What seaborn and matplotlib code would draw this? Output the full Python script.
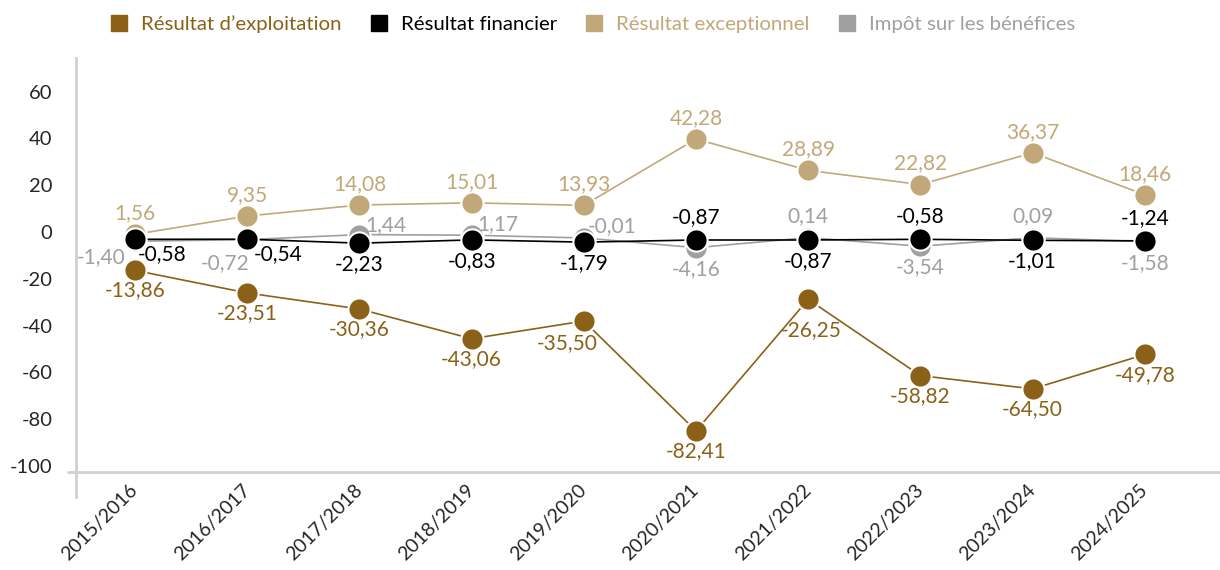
import matplotlib
matplotlib.use("Agg")
import matplotlib.pyplot as plt
import matplotlib.transforms as mtransforms
from matplotlib.lines import Line2D
import seaborn as sns
import pandas as pd

# ====================== DATA ======================
years = ["2015/2016", "2016/2017", "2017/2018", "2018/2019", "2019/2020",
         "2020/2021", "2021/2022", "2022/2023", "2023/2024", "2024/2025"]

exploitation = [-13.86, -23.51, -30.36, -43.06, -35.50, -82.41, -26.25, -58.82, -64.50, -49.78]
financier = [-0.58, -0.54, -2.23, -0.83, -1.79, -0.87, -0.87, -0.58, -1.01, -1.24]
exceptionnel = [1.56, 9.35, 14.08, 15.01, 13.93, 42.28, 28.89, 22.82, 36.37, 18.46]
impot = [-1.40, -0.72, 1.44, 1.17, -0.01, -4.16, 0.14, -3.54, 0.09, -1.58]

series_names = ["Résultat d\u2019exploitation", "Résultat financier",
                "Résultat exceptionnel", "Impôt sur les bénéfices"]
colors = ["#8B6118", "#000000", "#C2A878", "#A0A0A0"]
y_ticks = [-100, -80, -60, -40, -20, 0, 20, 40, 60]

# label offsets in pixels (dx, dy) per point
off_expl = [(0, -20), (0, -20), (0, -20), (0, -20), (-17, -22),
            (0, -20), (3, -31), (0, -20), (0, -20), (0, -21)]
off_exc = [(0, 21)] * 10
off_fin = [(27, -15), (31, -15), (0, -21), (0, -21), (0, -21),
           (0, 23), (0, -21), (0, 23), (0, -21), (0, 23)]
off_imp = [(-34, -16), (-22, -23), (26, 9), (26, 11), (28, 12),
           (0, -21), (0, 22), (0, -21), (0, 22), (0, -21)]

# ====================== PLOT ======================
sns.set_theme(style="white")
plt.rcParams['font.family'] = ['Lato', 'DejaVu Sans']

fig = plt.figure(figsize=(12.2, 5.7), dpi=100)
ax = fig.add_axes([76 / 1220, 1 - 497 / 570, 1 - 76 / 1220, (497 - 58) / 570])

idx = list(range(len(years)))
data = [exploitation, financier, exceptionnel, impot]
offsets = [off_expl, off_fin, off_exc, off_imp]
zorders = [3, 5, 3, 4]

for name, vals, col, offs, z in zip(series_names, data, colors, offsets, zorders):
    df = pd.DataFrame({"x": idx, "y": vals})
    sns.lineplot(data=df, x="x", y="y", ax=ax, color=col, linewidth=1.2,
                 marker="o", markersize=16, markeredgecolor="white",
                 markeredgewidth=1.5, zorder=z)
    for i, v in enumerate(vals):
        dx, dy = offs[i]
        ax.annotate(f"{v:.2f}".replace(".", ","), (i, v), xytext=(dx, dy),
                    textcoords="offset pixels", ha="center", va="center",
                    fontsize=15, color=col, zorder=6)

ax.set_xlim(-0.526, 9.67)
ax.set_ylim(-110.7, 76.9)
ax.set_xticks(idx)
ax.set_xticklabels(years, rotation=45, ha="right", va="center",
                   rotation_mode="anchor", fontsize=14)
ax.set_yticks(y_ticks)
ax.set_yticklabels([str(t) for t in y_ticks], fontsize=14.5)
ax.tick_params(axis="both", length=0)
ax.tick_params(axis="y", pad=17)
ax.tick_params(axis="x", pad=-7)
ax.set_xlabel("")
ax.set_ylabel("")

# shift y tick labels slightly upward like the original
shift = mtransforms.ScaledTranslation(0, 6 / 100, fig.dpi_scale_trans)
for lbl in ax.get_yticklabels():
    lbl.set_transform(lbl.get_transform() + shift)

for s in ["top", "right", "bottom"]:
    ax.spines[s].set_visible(False)
ax.spines["left"].set_color("#D0D0D0")
ax.spines["left"].set_linewidth(2)
ax.axhline(-100, xmin=-8 / 1144, xmax=1, color="#D0D0D0", linewidth=2,
           clip_on=False, zorder=1)

handles = [Line2D([], [], marker="s", linestyle="", color=c, markersize=11)
           for c in colors]
fig.legend(handles, series_names, loc="center", bbox_to_anchor=(592 / 1220, 1 - 24 / 570),
           ncol=4, frameon=False, fontsize=14.7, labelcolor=colors,
           handletextpad=0.6, columnspacing=1.3, handlelength=1.0)

fig.savefig("out.png", dpi=100)
plt.close(fig)
